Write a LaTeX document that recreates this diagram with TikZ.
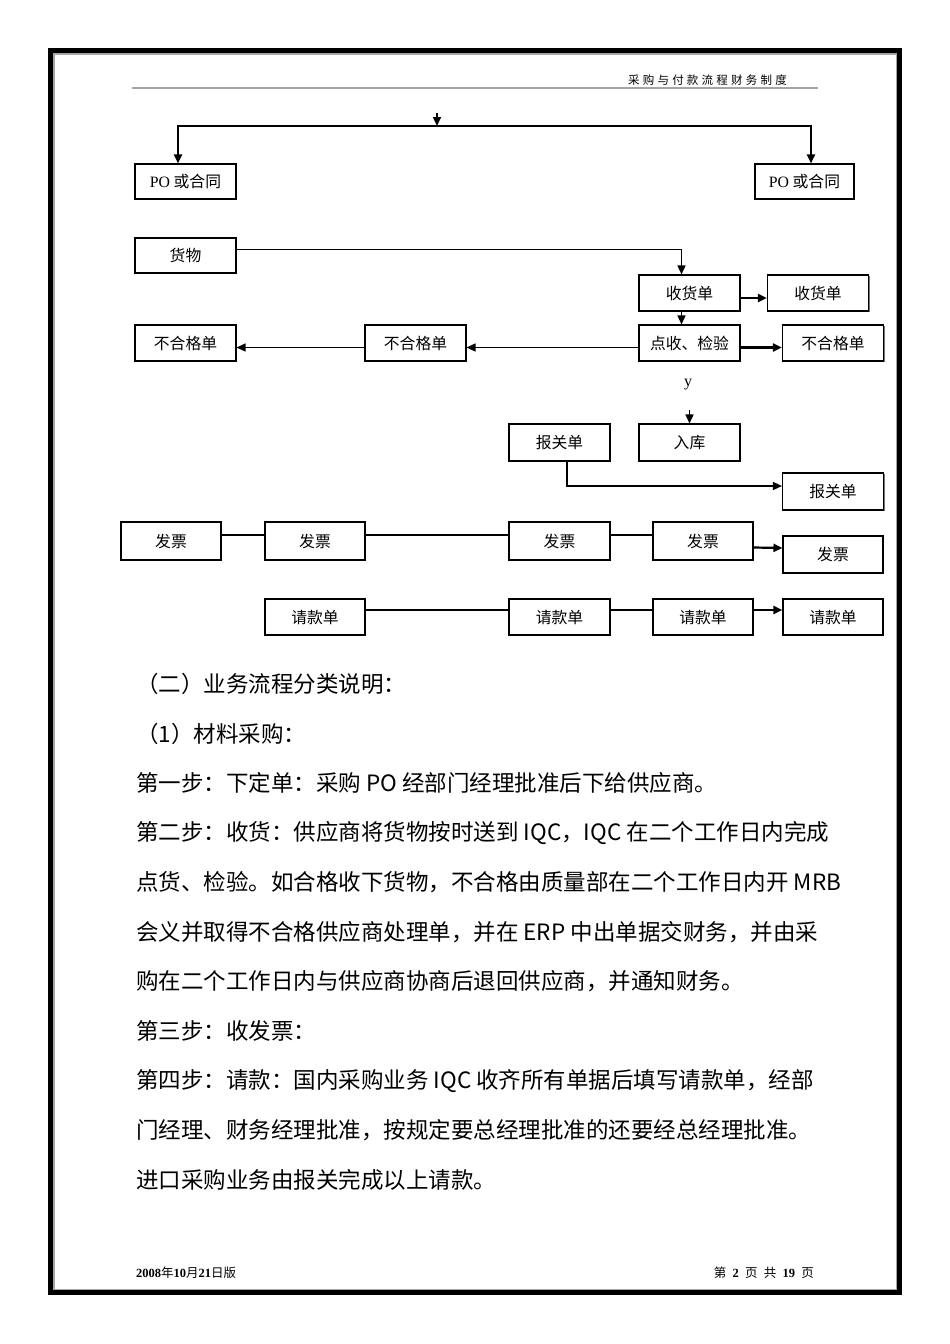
\documentclass[tikz,border=0pt]{standalone}
\usepackage{fontspec}
\setmainfont{Liberation Serif}
\newfontfamily\cjk{Noto Sans CJK SC}
\newfontfamily\cjkhead[LetterSpace=28]{Noto Sans CJK SC}
\usetikzlibrary{arrows.meta, positioning, shadows}

\begin{document}
\begin{tikzpicture}[x=1pt, y=-1pt,
    box/.style={draw, line width=1.1pt, fill=white, minimum width=101pt, minimum height=36pt, inner sep=0pt,
        font=\cjk\fontsize{15.8}{16}\selectfont,
        drop shadow={shadow xshift=1.4pt, shadow yshift=-1.4pt, fill=black!55, opacity=1}},
    arr/.style={-{Triangle[length=9pt,width=8pt]}, line width=1.5pt},
    fatarr/.style={arr, line width=2.2pt},
    link/.style={line width=1.3pt},
    para/.style={anchor=west, inner sep=0pt, font=\cjk\fontsize{22.5}{24}\selectfont}]
    \useasboundingbox (0,0) rectangle (950,1344);

    % Page frame and header
    \draw[line width=5pt] (50.5,50.5) rectangle (899.2,1292);
    \draw[gray!70, line width=1.1pt] (54,54) rectangle (896.2,1289.5);
    \draw[gray!70, line width=1.8pt] (132,88) -- (818,88);
    \node[anchor=east, inner sep=0pt, font=\cjkhead\fontsize{11.5}{12}\selectfont] (head) at (787,80) {采购与付款流程财务制度};

    % Boxes
    \node[box, minimum height=35pt] (po1) at (185.5,181.5) {\textrm{PO} 或合同};
    \node[box, minimum height=35pt, minimum width=99pt] (po2) at (804.5,181.5) {\textrm{PO} 或合同};
    \node[box, minimum height=35pt] (goods) at (185.5,255.5) {货物};
    \node[box] (rcv1) at (689.5,293) {收货单};
    \node[box] (rcv2) at (818,293) {收货单};
    \node[box] (check) at (689.5,343) {点收、检验};
    \node[box] (bad3) at (833,343) {不合格单};
    \node[box] (bad2) at (415.5,343) {不合格单};
    \node[box] (bad1) at (185.5,343) {不合格单};
    \node[box, minimum height=37pt] (stock) at (689.5,442.5) {入库};
    \node[box, minimum height=37pt] (cust1) at (559.5,442.5) {报关单};
    \node[box, minimum height=37pt] (cust2) at (833,491.5) {报关单};
    \node[box, minimum height=38pt, minimum width=100pt] (inv1) at (171,541) {发票};
    \node[box, minimum height=38pt, minimum width=100pt] (inv2) at (315,541) {发票};
    \node[box, minimum height=38pt] (inv3) at (559.5,541) {发票};
    \node[box, minimum height=38pt, minimum width=100pt] (inv4) at (703,541) {发票};
    \node[box, minimum height=37pt, minimum width=100pt] (inv5) at (833,554.5) {发票};
    \node[box, minimum width=100pt] (pay1) at (315,617) {请款单};
    \node[box] (pay2) at (559.5,617) {请款单};
    \node[box, minimum width=100pt] (pay3) at (703,617) {请款单};
    \node[box, minimum width=100pt] (pay4) at (833,617) {请款单};
    \node[font=\fontsize{16}{16}\selectfont, inner sep=0pt] (yes) at (688,385) {y};

    % Top split
    \coordinate (src) at (437,113);
    \coordinate (split) at (437,126);
    \coordinate (tl) at (178,126);
    \coordinate (tr) at (811,126);
    \draw[arr] (src) -- (split);
    \draw[arr, line width=2pt] (split) -| (tl |- po1.north);
    \draw[arr, line width=2pt] (split) -| (tr |- po2.north);

    % Receiving
    \draw[arr] ([yshift=6pt]goods.east) -| ([xshift=-8pt]rcv1.north);
    \draw[fatarr] ([yshift=-5pt]rcv1.east) -- ([yshift=-5pt]rcv2.west);
    \draw[arr] ([xshift=-8pt]rcv1.south) -- ([xshift=-8pt]check.north);
    \draw[fatarr] ([yshift=-4.5pt]check.east) -- ([yshift=-4.5pt]bad3.west);
    \draw[arr] ([yshift=-4.5pt]check.west) -- ([yshift=-4.5pt]bad2.east);
    \draw[arr] ([yshift=-4.5pt]bad2.west) -- ([yshift=-4.5pt]bad1.east);
    \coordinate (yarr) at (689.5,410);
    \draw[arr] (yarr) -- (stock.north);
    \draw[arr] ([xshift=7.5pt]cust1.south) |- ([yshift=5.5pt]cust2.west);

    % Invoice and payment rows
    \draw[link] ([yshift=6pt]inv1.east) -- ([yshift=6pt]inv2.west);
    \draw[link] ([yshift=6pt]inv2.east) -- ([yshift=6pt]inv3.west);
    \draw[link] ([yshift=6pt]inv3.east) -- ([yshift=6pt]inv4.west);
    \draw[fatarr] ([yshift=-6.5pt]inv4.east) -- ([yshift=6.5pt]inv5.west);
    \draw[link] ([yshift=7pt]pay1.east) -- ([yshift=7pt]pay2.west);
    \draw[link] ([yshift=7pt]pay2.east) -- ([yshift=7pt]pay3.west);
    \draw[fatarr] ([yshift=7pt]pay3.east) -- ([yshift=7pt]pay4.west);

    % Text
    \foreach \t [count=\i] in {（二）业务流程分类说明：,
        （1）材料采购：,
        第一步：下定单：采购 PO 经部门经理批准后下给供应商。,
        第二步：收货：供应商将货物按时送到 IQC，IQC 在二个工作日内完成,
        点货、检验。如合格收下货物，不合格由质量部在二个工作日内开 MRB,
        会义并取得不合格供应商处理单，并在 ERP 中出单据交财务，并由采,
        购在二个工作日内与供应商协商后退回供应商，并通知财务。,
        第三步：收发票：,
        第四步：请款：国内采购业务 IQC 收齐所有单据后填写请款单，经部,
        门经理、财务经理批准，按规定要总经理批准的还要经总经理批准。,
        进口采购业务由报关完成以上请款。}
        \node[para] (ln\i) at (136,{684+49.6*(\i-1)}) {\t};

    % Footer
    \node[anchor=west, inner sep=0pt, font=\fontsize{12.5}{13}\selectfont] (date) at (136,1273)
        {\textbf{2008}{\cjk 年}\textbf{10}{\cjk 月}\textbf{21}{\cjk 日版}};
    \node[anchor=east, inner sep=0pt, font=\fontsize{12.5}{13}\selectfont] (page) at (814,1273)
        {{\cjk 第}\ \ \textbf{2}\ \ {\cjk 页}\ \ {\cjk 共}\ \ \textbf{19}\ \ {\cjk 页}};
\end{tikzpicture}
\end{document}
